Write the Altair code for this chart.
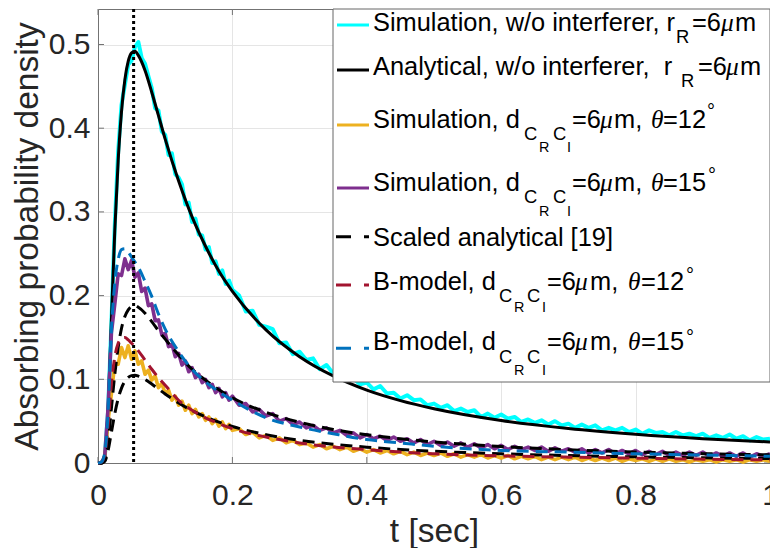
import altair as alt
import pandas as pd

# ---------------- data ----------------
X_TICKS = [0, 0.2, 0.4, 0.6, 0.8, 1]
Y_TICKS = [0, 0.1, 0.2, 0.3, 0.4, 0.5]
PEAK_T = [0.053]

ANA_T = [0, 0.005, 0.01, 0.015, 0.02, 0.025, 0.03, 0.035, 0.04, 0.045, 0.05, 0.055,
         0.06, 0.07, 0.08, 0.09, 0.1, 0.12, 0.14, 0.16, 0.18, 0.2, 0.25, 0.3, 0.35,
         0.4, 0.45, 0.5, 0.6, 0.7, 0.8, 0.9, 1.0]
ANALYTICAL = [0, 0, 0.009, 0.064, 0.172, 0.278, 0.361, 0.420, 0.458, 0.480, 0.490, 0.492,
              0.487, 0.469, 0.443, 0.415, 0.387, 0.337, 0.294, 0.259, 0.229, 0.205, 0.159,
              0.127, 0.104, 0.087, 0.0745, 0.0648, 0.0508, 0.0413, 0.0344, 0.0291, 0.0251]
SCALED_15 = [0, 0, 0.0034, 0.024, 0.066, 0.106, 0.138, 0.161, 0.175, 0.183, 0.187, 0.188,
             0.186, 0.179, 0.169, 0.158, 0.148, 0.129, 0.112, 0.099, 0.0876, 0.078, 0.0606,
             0.0487, 0.0401, 0.0338, 0.029, 0.0252, 0.0197, 0.0159, 0.0132, 0.0112, 0.0097]
SCALED_12 = [0, 0, 0.0019, 0.0149, 0.037, 0.059, 0.0769, 0.0895, 0.0976, 0.1023, 0.1044, 0.1048,
             0.1038, 0.0998, 0.0943, 0.0884, 0.0825, 0.0718, 0.0626, 0.0551, 0.0488, 0.0436, 0.0338,
             0.0271, 0.0224, 0.0189, 0.0161, 0.014, 0.011, 0.0089, 0.0074, 0.0062, 0.0054]
BMODEL_15 = [0, 0.001, 0.012, 0.06, 0.16, 0.215, 0.243, 0.255, 0.256, 0.252, 0.246, 0.240,
             0.234, 0.217, 0.199, 0.178, 0.160, 0.133, 0.112, 0.097, 0.085, 0.075, 0.054,
             0.043, 0.035, 0.028, 0.024, 0.020, 0.015, 0.013, 0.011, 0.0095, 0.008]
BMODEL_12 = [0, 0.001, 0.01, 0.045, 0.095, 0.127, 0.143, 0.149, 0.150, 0.147, 0.143, 0.139,
             0.134, 0.123, 0.112, 0.102, 0.093, 0.075, 0.063, 0.054, 0.047, 0.041, 0.031,
             0.024, 0.019, 0.016, 0.013, 0.011, 0.0085, 0.007, 0.0058, 0.0046, 0.0037]

SIM_T = [round(0.005 * i, 3) for i in range(41)] + [round(0.2 + 0.01 * i, 2) for i in range(1, 81)]
SIM_FREE = [0, 0, 0.006, 0.062, 0.168, 0.285, 0.372, 0.428, 0.452, 0.476, 0.481, 0.497, 0.503,
            0.484, 0.477, 0.462, 0.448, 0.424, 0.421, 0.396, 0.392, 0.368, 0.370, 0.345, 0.341,
            0.333, 0.309, 0.311, 0.288, 0.292, 0.273, 0.272, 0.255, 0.258, 0.239, 0.241, 0.226,
            0.230, 0.214, 0.218, 0.207,
            0.200, 0.181, 0.182, 0.165, 0.163, 0.160, 0.143, 0.144, 0.130, 0.133,
            0.123, 0.125, 0.112, 0.117, 0.107, 0.107, 0.098, 0.101, 0.094, 0.096,
            0.088, 0.092, 0.083, 0.084, 0.077, 0.081, 0.075, 0.076, 0.069, 0.071,
            0.066, 0.069, 0.062, 0.065, 0.061, 0.063, 0.055, 0.059, 0.054, 0.058,
            0.053, 0.055, 0.049, 0.052, 0.048, 0.051, 0.046, 0.050, 0.045, 0.047,
            0.042, 0.046, 0.042, 0.045, 0.039, 0.042, 0.039, 0.042, 0.037, 0.040,
            0.035, 0.039, 0.036, 0.037, 0.033, 0.037, 0.033, 0.035, 0.032, 0.035,
            0.030, 0.033, 0.030, 0.034, 0.029, 0.032, 0.027, 0.031, 0.028, 0.029]
SIM_15 = [0, 0, 0.008, 0.066, 0.156, 0.190, 0.226, 0.224, 0.244, 0.231, 0.242, 0.222, 0.227,
          0.205, 0.209, 0.188, 0.190, 0.170, 0.171, 0.153, 0.155, 0.139, 0.142, 0.127, 0.131,
          0.117, 0.122, 0.109, 0.114, 0.102, 0.106, 0.096, 0.100, 0.090, 0.094, 0.084, 0.089,
          0.079, 0.084, 0.075, 0.080,
          0.069, 0.071, 0.061, 0.064, 0.056, 0.059, 0.050, 0.053, 0.046, 0.049,
          0.042, 0.045, 0.039, 0.042, 0.036, 0.039, 0.033, 0.036, 0.030, 0.034,
          0.029, 0.032, 0.027, 0.031, 0.026, 0.029, 0.024, 0.028, 0.022, 0.026,
          0.021, 0.025, 0.020, 0.024, 0.019, 0.023, 0.018, 0.022, 0.017, 0.021,
          0.016, 0.020, 0.016, 0.019, 0.015, 0.019, 0.014, 0.018, 0.014, 0.017,
          0.013, 0.017, 0.012, 0.016, 0.012, 0.016, 0.011, 0.015, 0.011, 0.015,
          0.010, 0.014, 0.010, 0.014, 0.009, 0.013, 0.009, 0.013, 0.009, 0.013,
          0.008, 0.012, 0.008, 0.012, 0.008, 0.012, 0.007, 0.011, 0.008, 0.011]
SIM_12 = [0, 0, 0.006, 0.050, 0.083, 0.119, 0.118, 0.138, 0.126, 0.140, 0.124, 0.134, 0.118,
          0.122, 0.106, 0.111, 0.099, 0.104, 0.090, 0.095, 0.083, 0.087, 0.075, 0.080, 0.069,
          0.074, 0.063, 0.069, 0.059, 0.064, 0.055, 0.059, 0.051, 0.055, 0.047, 0.052, 0.044,
          0.049, 0.041, 0.046, 0.039,
          0.041, 0.034, 0.037, 0.030, 0.033, 0.027, 0.030, 0.024, 0.027, 0.022,
          0.024, 0.019, 0.022, 0.017, 0.020, 0.016, 0.019, 0.014, 0.017, 0.013,
          0.016, 0.012, 0.015, 0.011, 0.014, 0.010, 0.013, 0.009, 0.012, 0.009,
          0.012, 0.008, 0.011, 0.007, 0.010, 0.007, 0.010, 0.006, 0.009, 0.006,
          0.009, 0.005, 0.008, 0.005, 0.008, 0.004, 0.007, 0.004, 0.007, 0.004,
          0.007, 0.003, 0.006, 0.003, 0.006, 0.003, 0.006, 0.002, 0.005, 0.003,
          0.005, 0.002, 0.005, 0.002, 0.005, 0.002, 0.004, 0.001, 0.004, 0.002,
          0.004, 0.001, 0.004, 0.002, 0.004, 0.001, 0.004, 0.002, 0.004, 0.002]

# ---------------- layout ----------------
W, H = 672, 454
LEFT, TOP = 98, 9          # page position of the plot origin
PX_T, PX_V = 672, 837      # pixels per data unit
YTOP = H / PX_V
FONT = "Liberation Sans"
AXIS_GRAY = "#737373"
LX = -4                    # horizontal shift of the hand-made legend


def t_of(px):
    return (px - LEFT) / PX_T


def v_of(py):
    return (TOP + H - py) / PX_V


xs = alt.Scale(domain=[0, 1], nice=False, zero=False)
ys = alt.Scale(domain=[0, YTOP], nice=False, zero=False)
xax = alt.Axis(values=X_TICKS, format="~g", title="t [sec]", labelPadding=17,
               titlePadding=5, labelFlush=False, ticks=False, grid=True)
yax = alt.Axis(values=Y_TICKS, format="~g", title="Absorbing probability density",
               labelPadding=8, titlePadding=4, ticks=False, grid=True)


def ex(f):
    return alt.X(f"{f}:Q", scale=xs, axis=xax)


def ey(f):
    return alt.Y(f"{f}:Q", scale=ys, axis=yax)


def series(t, v, color, width, dash=None, interp="linear"):
    df = pd.DataFrame({"t": t, "v": v})
    kw = dict(color=color, strokeWidth=width, strokeJoin="round", interpolate=interp)
    if dash:
        kw["strokeDash"] = dash
    return alt.Chart(df).mark_line(**kw).encode(x=ex("t"), y=ey("v"))


layers = []

# inward tick marks on all four sides
TX, TY = 6 / PX_T, 6 / PX_V
tick_rows = []
for yv in Y_TICKS:
    tick_rows.append(dict(x0=0, x1=TX, y0=yv, y1=yv))
    tick_rows.append(dict(x0=1 - TX, x1=1, y0=yv, y1=yv))
for xv in X_TICKS:
    tick_rows.append(dict(x0=xv, x1=xv, y0=0, y1=TY))
    tick_rows.append(dict(x0=xv, x1=xv, y0=YTOP - TY, y1=YTOP))
layers.append(alt.Chart(pd.DataFrame(tick_rows)).mark_rule(color=AXIS_GRAY, strokeWidth=1).encode(
    x=ex("x0"), x2="x1", y=ey("y0"), y2="y1"))

CYAN, ORANGE, PURPLE, RED, BLUE = "#00FFFF", "#EDB120", "#7E2F8E", "#A2142F", "#0072BD"
DASH = [12, 7]
layers += [
    series(SIM_T, SIM_FREE, CYAN, 4),
    series(ANA_T, ANALYTICAL, "black", 3, interp="monotone"),
    series(SIM_T, SIM_12, ORANGE, 3.6),
    series(SIM_T, SIM_15, PURPLE, 3.6),
    series(ANA_T, SCALED_12, "black", 3, DASH, "monotone"),
    series(ANA_T, SCALED_15, "black", 3, DASH, "monotone"),
    series(ANA_T, BMODEL_12, RED, 3, DASH, "monotone"),
    series(ANA_T, BMODEL_15, BLUE, 3, DASH, "monotone"),
]

layers.append(alt.Chart(pd.DataFrame({"t": PEAK_T})).mark_rule(
    color="black", strokeWidth=3, strokeDash=[3, 3]).encode(x=ex("t")))

# ---------------- legend (drawn by hand for sub/superscripts) ----------------
box = pd.DataFrame([dict(x0=t_of(337 + LX), x1=1, y0=v_of(382), y1=YTOP)])
layers.append(alt.Chart(box).mark_rect(fill="white", stroke="#666666", strokeWidth=1).encode(
    x=ex("x0"), x2="x1", y=ey("y0"), y2="y1"))

samples = [
    (25, CYAN, None), (70, "black", None), (125, ORANGE, None), (188, PURPLE, None),
    (236.7, "black", [15, 13]), (285, RED, [15, 13]), (348.3, BLUE, [15, 13]),
]
for py, col, dash in samples:
    df = pd.DataFrame([dict(x0=t_of((341 if dash is None else 340) + LX), x1=t_of(373 + LX),
                            y=v_of(py))])
    kw = dict(color=col, strokeWidth=3)
    if dash:
        kw["strokeDash"] = dash
    layers.append(alt.Chart(df).mark_rule(**kw).encode(x=ex("x0"), x2="x1", y=ey("y")))

LEG_MAIN = [
    ("Simulation, w/o interferer, r", 377, 31), ("=6", 696, 31), ("m", 739, 31),
    ("Analytical, w/o interferer,\u00a0 r", 377, 75), ("=6", 702, 75), ("m", 744, 75),
    ("Simulation, d", 377, 127.5), ("=6", 576, 127.5), ("m,", 618, 127.5), ("=12", 667, 127.5),
    ("Simulation, d", 377, 190.5), ("=6", 576, 190.5), ("m,", 618, 190.5), ("=15", 667, 190.5),
    ("Scaled analytical [19]", 377, 246),
    ("B-model, d", 377, 290), ("=6", 551, 290), ("m,", 594, 290), ("=12", 645, 290),
    ("B-model, d", 377, 350), ("=6", 551, 350), ("m,", 594, 350), ("=15", 645, 350),
]
LEG_SUB = [("R", 680, 43), ("R", 685, 87),
           ("C", 528, 140), ("C", 557, 140), ("C", 528, 203.3), ("C", 557, 203.3),
           ("C", 503, 301.7), ("C", 531, 301.7), ("C", 503, 363), ("C", 531, 363)]
LEG_SUBSUB = [("R", 543, 152), ("I", 571, 152), ("R", 543, 216), ("I", 571, 216),
              ("R", 518, 312), ("I", 546, 312), ("R", 518, 375), ("I", 546, 375)]
LEG_ITAL = [("μ", 725, 31), ("μ", 730, 75),
            ("μ", 604, 127.5), ("θ", 655, 127.5), ("μ", 604, 190.5), ("θ", 655, 190.5),
            ("μ", 579, 290), ("θ", 632, 290), ("μ", 579, 350), ("θ", 632, 350)]
LEG_SUP = [("°", 711, 118), ("°", 712, 182), ("°", 690, 282), ("°", 690, 344)]


def text_layer(items, size, font=FONT, style="normal"):
    df = pd.DataFrame([dict(text=s, x=t_of(px + LX), y=v_of(py)) for s, px, py in items])
    return alt.Chart(df).mark_text(align="left", baseline="alphabetic", font=font,
                                   fontSize=size, fontStyle=style, color="black").encode(
        x=ex("x"), y=ey("y"), text="text:N")


layers += [
    text_layer(LEG_MAIN, 25.4),
    text_layer(LEG_SUB, 18.4),
    text_layer(LEG_SUBSUB, 14.4),
    text_layer(LEG_ITAL, 25.4, "Liberation Serif", "italic"),
    text_layer(LEG_SUP, 20),
]

chart = alt.layer(*layers).properties(
    width=W, height=H,
    autosize=alt.AutoSizeParams(type="none"),
    padding={"left": 90, "top": 1, "right": 0, "bottom": 85},
).configure_view(stroke=AXIS_GRAY, strokeWidth=1).configure_axis(
    labelFont=FONT, labelFontSize=30, labelColor="#262626",
    titleFont=FONT, titleFontSize=33.5, titleFontWeight="normal", titleColor="#262626",
    domainColor=AXIS_GRAY, domainWidth=1, gridColor="#e5e5e5", gridWidth=1,
)

chart.save("out.html", embed_options={"renderer": "svg", "actions": False})
